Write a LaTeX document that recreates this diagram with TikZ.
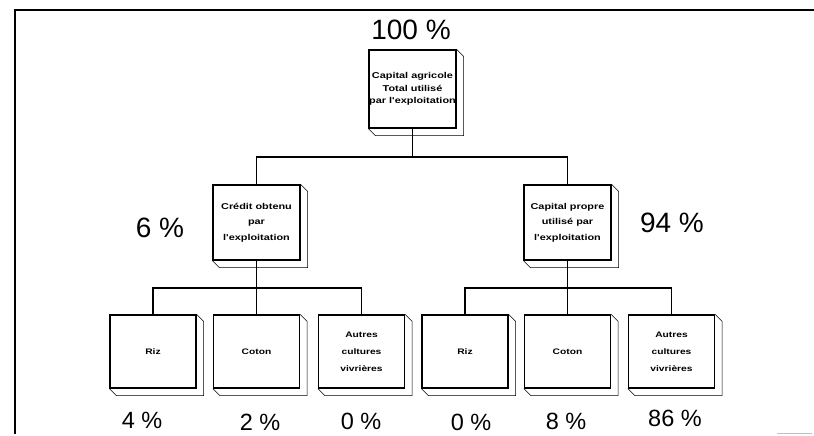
\documentclass[tikz,border=0pt]{standalone}
\usepackage{fontspec}
\setmainfont{Liberation Sans}
\newfontfamily\boxfont[FakeStretch=1.28]{Liberation Sans}
\usetikzlibrary{calc}
\newcommand\extrude[2][7]{%
  \draw[line width=0.6pt] (#2.north east) -- ++(#1,#1) -- ($(#2.south east)+(#1,#1)$)
    -- ($(#2.south west)+(#1,#1)$) -- (#2.south west);}
\begin{document}
\begin{tikzpicture}[x=1pt,y=-1pt,
  box/.style={draw, line width=1.3pt, fill=white, align=center, inner sep=0pt},
  topbox/.style={box, minimum width=87pt, minimum height=78pt, font=\boxfont\bfseries\fontsize{8.5}{12.5}\selectfont},
  midbox/.style={box, minimum width=87pt, minimum height=75pt, font=\boxfont\bfseries\fontsize{8.5}{15.5}\selectfont},
  lowbox/.style={box, minimum width=86pt, minimum height=73pt, font=\boxfont\bfseries\fontsize{8}{17}\selectfont},
  bigpct/.style={anchor=base, inner sep=0pt, font=\fontsize{28}{30}\selectfont},
  pct/.style={anchor=base, inner sep=0pt, font=\fontsize{23.5}{26}\selectfont},
  conn/.style={line width=1.2pt}]
\useasboundingbox (0,0) rectangle (814,436);
% frame
\draw[line width=1.5pt] (814,10) -- (15,10) -- (15,434);
\draw[gray!50, line width=1pt] (777,433) -- (812,433);

% boxes
\node[topbox] (top) at (412.5,89) {Capital agricole\\Total utilisé\\par l'exploitation};
\node[midbox] (midL) at (256.5,222.5) {Crédit obtenu\\par\\l'exploitation};
\node[midbox] (midR) at (567.5,222.5) {Capital propre\\utilisé par\\l'exploitation};
\node[lowbox] (b1) at (153,351.5) {Riz};
\node[lowbox] (b2) at (256.5,351.5) {Coton};
\node[lowbox] (b3) at (361.5,351.5) {Autres\\cultures\\vivrières};
\node[lowbox] (b4) at (465,351.5) {Riz};
\node[lowbox] (b5) at (567.5,351.5) {Coton};
\node[lowbox] (b6) at (671.5,351.5) {Autres\\cultures\\vivrières};
\foreach \n in {top,midL,midR,b1,b2,b3,b4,b5,b6} {\extrude{\n}}

% connectors
\coordinate (h1) at (412.5,157);
\coordinate (h2) at (256.5,288);
\coordinate (h3) at (567.5,288);
\draw[conn] (top.south) -- (h1);
\draw[conn] (midL.north) |- (h1) -| (midR.north);
\draw[conn] (midL.south) -- (h2);
\draw[conn] (b1.north) |- (h2) -| (b3.north);
\draw[conn] (b2.north) -- (h2);
\draw[conn] (midR.south) -- (h3);
\draw[conn] (b4.north) |- (h3) -| (b6.north);
\draw[conn] (b5.north) -- (h3);

% percentages
\node[bigpct] (p0) at (411,40) {100 \%};
\node[bigpct] (p1) at (160,237) {6 \%};
\node[bigpct] (p2) at (672,232) {94 \%};
\node[pct] (q1) at (142,428) {4 \%};
\node[pct] (q2) at (260,430) {2 \%};
\node[pct] (q3) at (361,429) {0 \%};
\node[pct] (q4) at (471,430) {0 \%};
\node[pct] (q5) at (566,429) {8 \%};
\node[pct] (q6) at (675,426) {86 \%};
\end{tikzpicture}
\end{document}
